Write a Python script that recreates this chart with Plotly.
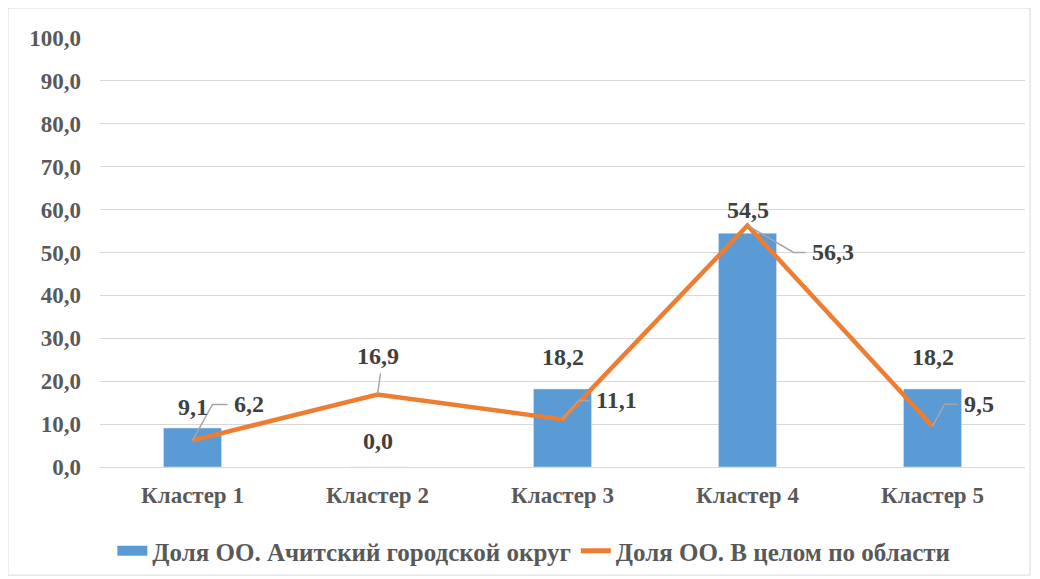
import plotly.graph_objects as go

categories = ["Кластер 1", "Кластер 2", "Кластер 3", "Кластер 4", "Кластер 5"]
bar_values = [9.1, 0.0, 18.2, 54.5, 18.2]
line_values = [6.2, 16.9, 11.1, 56.3, 9.5]
bar_name = "Доля ОО. Ачитский городской округ"
line_name = "Доля ОО. В целом по области"
y_ticks = [0, 10, 20, 30, 40, 50, 60, 70, 80, 90, 100]

BLUE = "#5B9BD5"
ORANGE = "#ED7D31"
FONT = "Liberation Serif"
LBL = dict(family=FONT, size=24, color="#404040")

def fmt(v):
    return f"{v:.1f}".replace(".", ",")

fig = go.Figure()
fig.add_trace(go.Bar(x=categories, y=bar_values, name=bar_name, marker_color=BLUE,
                     width=0.314, showlegend=False))
fig.add_trace(go.Scatter(x=categories, y=line_values, name=line_name, mode="lines",
                         line=dict(color=ORANGE, width=4.5), showlegend=False))
# legend entries
fig.add_trace(go.Scatter(x=[None], y=[None], mode="lines", name=f"<b>{bar_name}</b>",
                         line=dict(color=BLUE, width=10)))
fig.add_trace(go.Scatter(x=[None], y=[None], mode="lines", name=f"<b>{line_name}</b>",
                         line=dict(color=ORANGE, width=5)))

# bar labels (pixel shift above bar top)
bar_shift = [21, 26, 32, 23, 32]
for c, v, s in zip(categories, bar_values, bar_shift):
    fig.add_annotation(x=c, y=v, text=f"<b>{fmt(v)}</b>", showarrow=False, yshift=s,
                       font=LBL)

# line labels with leader lines: (dx, dy) in pixels of bend, horizontal length
leaders = [(20, 36, 15), None, (16, 19, 11), (46, -27, 12), (12, 22, 13)]
for c, v, ld in zip(categories, line_values, leaders):
    if ld is None:
        fig.add_shape(type="path", xref="x", yref="y", xsizemode="pixel",
                      ysizemode="pixel", xanchor=c, yanchor=v,
                      path="M0,0 L3,21", line=dict(color="#A6A6A6", width=1.5))
        fig.add_annotation(x=c, y=v, text=f"<b>{fmt(v)}</b>", showarrow=False,
                           yshift=39, font=LBL)
        continue
    dx, dy, h = ld
    fig.add_shape(type="path", xref="x", yref="y", xsizemode="pixel", ysizemode="pixel",
                  xanchor=c, yanchor=v,
                  path=f"M0,0 L{dx},{dy} L{dx + h},{dy}",
                  line=dict(color="#A6A6A6", width=1.5))
    fig.add_annotation(x=c, y=v, text=f"<b>{fmt(v)}</b>", showarrow=False,
                       xanchor="left", xshift=dx + h + 4, yshift=dy, font=LBL)

# outer chart border
fig.add_shape(type="rect", xref="paper", yref="paper", x0=-0.0995, x1=1.0054,
              y0=-0.252, y1=1.07, line=dict(color="#D9D9D9", width=1),
              fillcolor="rgba(0,0,0,0)")

fig.update_layout(
    width=1040, height=579,
    margin=dict(l=92, r=23, t=30, b=120),
    paper_bgcolor="white", plot_bgcolor="white",
    font=dict(family=FONT, color="#595959"),
    showlegend=True,
    legend=dict(orientation="h", x=0.469, xanchor="center", y=-0.196, yanchor="middle",
                font=dict(family=FONT, size=25, color="#595959"),
                itemwidth=30, tracegroupgap=0),
)
fig.update_xaxes(showgrid=False, showline=True, linecolor="#D9D9D9", linewidth=1,
                 tickfont=dict(family=FONT, size=23, color="#595959"),
                 ticks="", tickprefix="<b>", ticksuffix="</b>", ticklabelstandoff=7)
fig.update_yaxes(range=[0, 100], tickvals=y_ticks,
                 ticktext=[f"<b>{fmt(t)}</b>" for t in y_ticks],
                 showgrid=True, gridcolor="#D9D9D9", gridwidth=1, zeroline=False,
                 tickfont=dict(family=FONT, size=23, color="#595959"),
                 ticks="", ticklabelstandoff=18)

fig.write_html("out.html")
